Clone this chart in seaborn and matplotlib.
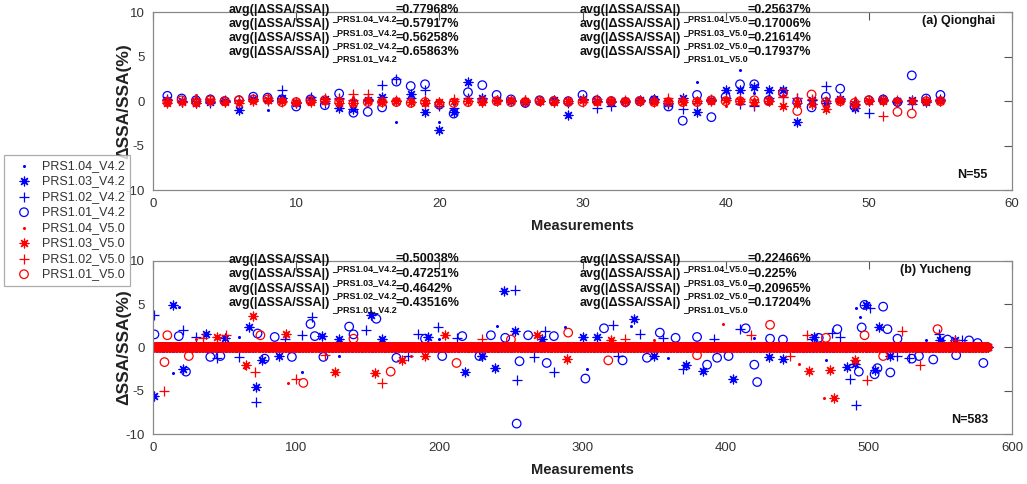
import numpy as np
import seaborn as sns
import matplotlib.pyplot as plt
from matplotlib.font_manager import FontProperties

# (a) Qionghai, N=55 -- dSSA/SSA (%) per measurement
qh_v42_104 = [0.3, 0.1, 0.3, 0.0, 0.1, -0.1, 0.2, -1.0, 0.5, 0.0,
              0.3, 0.1, 0.2, 0.2, 0.1, 0.3, -2.3, 0.4, 0.2, -2.4,
              -0.3, 0.5, 0.2, 0.1, 0.0, 0.1, 0.0, 0.1, -0.2, 0.2,
              0.1, 0.0, 0.1, 0.0, 0.3, 0.2, -0.2, 2.1, 0.2, 0.3,
              3.5, 0.9, 0.6, 0.6, 0.2, 0.1, 0.3, 0.2, 0.1, 0.0,
              0.1, 0.0, 0.2, 0.1, 0.3]
qh_v42_103 = [0.1, 0.0, -0.2, -0.1, 0.0, -1.0, 0.2, 0.1, 0.3, -0.2,
              0.1, 0.2, -0.8, -0.9, 0.1, 0.5, 0.0, 0.8, -1.2, -3.2,
              -1.2, 2.2, 0.3, 0.1, 0.0, -0.1, 0.0, 0.1, -1.6, 0.2,
              0.0, -0.1, 0.0, 0.1, 0.2, -0.2, 0.3, -1.2, 0.1, 1.3,
              1.2, 1.6, 1.2, 1.3, -2.3, 0.1, -0.2, 0.2, -0.8, 0.0,
              0.1, 0.0, 0.1, -0.1, 0.1]
qh_v42_102 = [0.2, -0.1, 0.0, -0.2, 0.1, 0.1, 0.2, 0.0, 1.2, -0.1,
              0.5, -0.2, 0.3, 0.1, 0.2, 1.8, 2.5, 0.3, 1.2, -0.5,
              -0.8, 0.4, 0.2, 0.1, 0.0, 0.1, 0.0, -0.1, -0.2, 0.1,
              -0.8, -0.6, -0.1, 0.0, 0.2, -0.3, -0.9, -0.2, 0.1, 0.3,
              -0.3, -0.6, 0.3, 0.5, 0.4, -0.3, 1.7, 0.3, -0.3, -1.3,
              0.2, -0.1, -0.3, 0.1, 0.2]
qh_v42_101 = [0.6, 0.3, 0.1, 0.2, 0.0, 0.1, 0.5, 0.4, 0.2, -0.6,
              0.2, -0.45, 0.85, -1.3, -1.2, -0.7, 2.2, 1.7, 1.9, -0.4,
              -1.4, 1.0, 1.8, 0.7, 0.2, -0.2, 0.1, 0.0, 0.0, 0.7,
              0.1, 0.0, -0.1, 0.0, 0.1, -0.6, -2.2, 0.7, -1.8, 0.5,
              1.9, 1.9, 0.1, 1.0, -0.1, -0.7, 0.5, 1.4, -0.6, 0.1,
              0.2, -0.1, 2.9, 0.3, 0.7]
qh_v50_104 = [0.2, 0.1, 0.7, 0.1, 0.0, 0.1, 0.1, 0.1, 0.2, 0.0,
              0.1, 0.2, 0.3, 0.5, 0.4, 0.1, 0.2, 0.0, 0.1, -0.2,
              0.1, 0.0, 0.2, 0.0, 0.1, 0.1, 0.0, 0.0, 0.1, 0.0,
              0.1, 0.2, 0.0, 0.1, 0.4, 0.0, 0.2, 0.3, 0.0, -0.6,
              0.4, 0.2, 0.5, 0.7, 0.2, 0.1, 0.0, 0.3, 0.3, 0.1,
              0.2, 0.0, 0.1, 0.0, 0.1]
qh_v50_103 = [-0.2, -0.1, -0.2, 0.0, -0.1, -0.2, 0.0, 0.1, 0.0, -0.1,
              -0.1, 0.0, -0.2, -0.2, 0.0, -0.1, 0.0, -0.1, -0.2, -0.1,
              0.0, 0.0, -0.1, 0.0, 0.1, 0.0, 0.0, -0.1, 0.0, 0.1,
              -0.1, 0.0, 0.0, 0.0, -0.1, 0.0, -0.1, 0.0, 0.0, 0.1,
              0.0, -0.1, 0.0, -0.6, -0.2, -0.3, -0.9, 0.0, -0.4, 0.0,
              0.0, 0.0, 0.0, 0.0, 0.0]
qh_v50_102 = [0.1, -0.1, 0.2, 0.2, -0.1, 0.1, 0.1, 0.3, -0.1, -0.2,
              0.1, 0.3, 0.2, 0.85, 0.85, 0.0, 0.1, -0.1, 0.1, -0.1,
              0.2, 0.0, -0.1, 0.1, 0.0, 0.1, 0.0, 0.1, 0.0, -0.1,
              0.2, 0.0, 0.1, 0.0, 0.1, 0.3, 0.1, 0.0, 0.2, 0.1,
              0.2, -0.4, 0.0, 0.5, 0.4, 0.2, 0.0, 0.1, 0.0, 0.1,
              -1.7, 0.1, 0.0, 0.1, 0.0]
qh_v50_101 = [-0.1, 0.1, -0.1, 0.1, 0.0, 0.1, 0.2, 0.2, -0.1, -0.1,
              0.0, 0.1, -0.1, -0.2, -0.1, -0.1, -0.1, -0.2, -0.1, -0.3,
              -0.2, -0.1, 0.0, 0.0, -0.1, -0.1, 0.0, 0.0, -0.1, -0.1,
              0.0, 0.0, -0.1, 0.0, -0.1, -0.1, -0.1, -0.1, 0.1, 0.0,
              0.0, 0.1, 0.0, 0.9, -1.1, 0.75, -0.1, 0.0, -0.2, 0.1,
              0.1, -1.2, -1.4, 0.0, 0.0]

# (b) Yucheng, N=583 -- readable points (measurement, value); all others sit in the band at 0
yc_n = 583
yc_v42_104 = [(18, 4.7), (14, -3.0), (104, -2.8), (240, 2.5), (288, 2.3), (334, 2.5),
              (303, -2.5), (491, 4.5), (494, 3.5), (60, 1.2), (130, -1.0), (200, 1.0),
              (360, -1.2), (420, 1.1), (540, 0.8), (470, -1.5)]
yc_v42_103 = [(14, 4.9), (67, 2.4), (21, -2.5), (1, -5.6), (72, -4.6), (37, 1.5), (118, 1.3),
              (76, -1.5), (245, 6.5), (152, 3.7), (253, 1.9), (218, -2.8), (239, -2.4),
              (336, 3.3), (405, -3.7), (372, -2.0), (384, -2.7), (498, 4.9), (507, 2.4),
              (485, -2.3), (490, -1.9), (504, -2.6), (160, 1.0), (300, 1.2), (440, -1.3),
              (560, 0.9), (50, 1.1), (88, -1.0), (130, 1.0), (192, 1.2), (230, -1.0),
              (272, 1.0), (310, 1.2), (350, -1.0), (430, -1.1), (462, 1.2), (515, -1.0),
              (550, 0.9)]
yc_v42_102 = [(1, 3.7), (111, 3.5), (21, 2.0), (104, 1.4), (72, -6.3), (149, 2.0), (199, 2.3),
              (185, 1.6), (274, 1.9), (253, 6.6), (254, -3.8), (280, -2.8), (321, 2.6),
              (340, 1.5), (410, 2.1), (370, -2.5), (501, 4.5), (549, 1.6), (474, 1.7),
              (491, -6.7), (487, -3.6), (45, -1.2), (230, -1.0), (460, 1.0), (520, -1.0),
              (30, 1.2), (60, -1.1), (92, 1.0), (178, -1.0), (212, 1.1), (266, -1.1),
              (325, -1.0), (356, 1.1), (392, 1.0), (480, 1.2), (528, -1.2), (565, 0.8)]
yc_v42_101 = [(1, 1.5), (110, 2.7), (137, 2.4), (140, 1.5), (73, 1.6), (113, 1.3), (23, -2.8),
              (40, -1.1), (78, -1.3), (119, -1.1), (156, 3.3), (216, 1.3), (236, 1.4),
              (262, 1.4), (280, 1.3), (254, -8.8), (256, -1.6), (275, -1.8), (202, -1.0),
              (302, -3.6), (315, 2.2), (354, 1.7), (414, 2.2), (431, 1.0), (380, 1.2),
              (422, -4.0), (387, -2.0), (328, -1.5), (420, -2.0), (394, -1.2), (497, 4.9),
              (510, 4.7), (495, 2.3), (513, 2.1), (478, 2.1), (504, -3.1), (515, -2.9),
              (493, -2.8), (506, -2.4), (530, -1.3), (545, -1.4), (580, -1.8), (561, -0.9),
              (18, 1.3), (47, -1.0), (85, 1.2), (97, -1.1), (170, -1.2), (190, 1.0),
              (228, -1.0), (246, 1.1), (345, -1.2), (365, 1.1), (402, -1.0), (440, 0.9),
              (465, 1.1), (520, 1.0), (535, -1.0), (555, 0.9), (570, 0.8), (576, 0.5)]
yc_v50_104 = [(94, -4.1), (64, -2.4), (398, 2.7), (469, -5.9), (451, -1.9), (30, 1.0),
              (180, -1.0), (350, 0.9)]
yc_v50_103 = [(70, 3.6), (93, 1.6), (65, -2.0), (127, -2.8), (204, 1.4), (268, 1.4),
              (155, -3.0), (174, -1.5), (289, -1.3), (476, -5.8), (458, -2.7), (473, -2.6),
              (45, 1.2), (190, -1.0), (320, 0.9), (490, -1.5)]
yc_v50_102 = [(51, 1.4), (8, -5.0), (71, -2.9), (100, -3.7), (160, -4.1), (418, 1.4),
              (523, 1.9), (457, 1.4), (499, -3.8), (536, -2.0),
              (35, 1.1), (120, -0.9), (230, 1.0), (330, 1.0), (445, -1.0), (560, 0.8)]
yc_v50_101 = [(10, 1.4), (75, 1.4), (8, -1.7), (105, -4.1), (166, -2.8), (212, -1.8),
              (290, 1.7), (318, -1.5), (431, 2.6), (548, 2.1), (497, 1.4),
              (25, -1.0), (140, 1.0), (250, 0.9), (380, -0.9), (470, 1.1), (510, -1.0)]

names = ["PRS1.04_V4.2", "PRS1.03_V4.2", "PRS1.02_V4.2", "PRS1.01_V4.2",
         "PRS1.04_V5.0", "PRS1.03_V5.0", "PRS1.02_V5.0", "PRS1.01_V5.0"]

qh_avg_v42 = ["0.77968", "0.57917", "0.56258", "0.65863"]
qh_avg_v50 = ["0.25637", "0.17006", "0.21614", "0.17937"]
yc_avg_v42 = ["0.50038", "0.47251", "0.4642", "0.43516"]
yc_avg_v50 = ["0.22466", "0.225", "0.20965", "0.17204"]

colors = ["#0000ff"] * 4 + ["#ff0000"] * 4
markers = [".", (8, 2, 0), "+", "o"] * 2
sizes = [14, 40, 45, 38] * 2

sns.set_theme(style="white")
plt.rcParams["font.family"] = ["Liberation Sans", "DejaVu Sans"]
plt.rcParams["axes.unicode_minus"] = False

W, H = 1027, 484


def expand(pts, n):
    y = np.zeros(n)
    for i, v in pts:
        y[i - 1] = v
    return y


def draw(ax, x, y, k):
    m, c, s = markers[k], colors[k], sizes[k]
    if m == "o":
        sns.scatterplot(x=x, y=y, ax=ax, marker="o", s=s, facecolor="none",
                        edgecolor=c, linewidth=0.9, label=names[k], legend=False)
    elif m == ".":
        sns.scatterplot(x=x, y=y, ax=ax, marker="o", s=s * 0.35, color=c,
                        edgecolor=c, linewidth=0, label=names[k], legend=False)
    else:
        sns.scatterplot(x=x, y=y, ax=ax, marker=m, s=s, color=c,
                        linewidth=0.9, label=names[k], legend=False)


def style_axes(ax, xmax, xstep):
    ax.set_xlim(0, xmax)
    ax.set_ylim(-10, 10)
    ax.set_xticks(np.arange(0, xmax + 1, xstep))
    ax.set_yticks([-10, -5, 0, 5, 10])
    ax.tick_params(direction="in", length=6, width=0.8, top=True, right=True,
                   colors="#555555", labelcolor="#333333", labelsize=9.5, pad=6)
    for sp in ax.spines.values():
        sp.set_color("#888888")
        sp.set_linewidth(0.9)
    ax.set_xlabel("Measurements", fontsize=10.5, fontweight="bold", color="#222222", labelpad=6)
    ax.set_ylabel("ΔSSA/SSA(%)", fontsize=12.5, fontweight="bold", color="#222222")
    ax.yaxis.set_label_coords(-0.0255, 0.5)


fig = plt.figure(figsize=(10.27, 4.84), dpi=100)
ax1 = fig.add_axes([0.149, 0.6074, 0.8364, 0.3672])
ax2 = fig.add_axes([0.149, 0.1033, 0.8364, 0.358])
renderer = fig.canvas.get_renderer()


def block(px, py, lines, size, pitch):
    # one multi-line text per column; py is the first line's baseline in pixels
    fp = FontProperties(family=["Liberation Sans"], weight="bold", size=size)
    _, lh, ld = renderer.get_text_width_height_descent("lp", fp, ismath=False)
    asc = lh - ld
    for s in lines:
        _, h, d = renderer.get_text_width_height_descent(s, fp, ismath=False)
        asc = max(asc, max(h, lh) - max(d, ld))
    last = py + pitch * (len(lines) - 1)
    fig.text(px / W, 1 - last / H, "\n".join(lines), fontproperties=fp, color="#111111",
             ha="left", va="baseline", linespacing=pitch / asc)


def avg_block(x0, y0, pitch, ver, vals):
    tags = ["_PRS1.0%d_%s" % (4 - j, ver) for j in range(4)]
    block(x0, y0, ["avg(|ΔSSA/SSA|)"] * 4, 9, pitch)
    block(x0 + 103, y0 + 5.5, tags, 6.5, pitch)
    block(x0 + 167, y0, ["=%s%%" % v for v in vals], 9, pitch)


qh_series = [qh_v42_104, qh_v42_103, qh_v42_102, qh_v42_101,
             qh_v50_104, qh_v50_103, qh_v50_102, qh_v50_101]
yc_series = [yc_v42_104, yc_v42_103, yc_v42_102, yc_v42_101,
             yc_v50_104, yc_v50_103, yc_v50_102, yc_v50_101]

qx = np.arange(1, len(qh_v42_101) + 1)
yx = np.arange(1, yc_n + 1)
for k in range(8):
    draw(ax1, qx, np.array(qh_series[k]), k)
    draw(ax2, yx, expand(yc_series[k], yc_n), k)

style_axes(ax1, 60, 10)
style_axes(ax2, 600, 100)

avg_block(229, 22, 11.1, "V4.2", qh_avg_v42)
avg_block(580, 22, 11.1, "V5.0", qh_avg_v50)
avg_block(229, 271.5, 11.6, "V4.2", yc_avg_v42)
avg_block(580, 271.5, 11.6, "V5.0", yc_avg_v50)

ax1.text(0.981, 0.934, "(a) Qionghai", transform=ax1.transAxes, ha="right", va="baseline",
         fontsize=9, fontweight="bold", color="#111111")
ax2.text(0.953, 0.93, "(b) Yucheng", transform=ax2.transAxes, ha="right", va="baseline",
         fontsize=9, fontweight="bold", color="#111111")
ax1.text(0.972, 0.085, "N=55", transform=ax1.transAxes, ha="right", va="center",
         fontsize=9, fontweight="bold", color="#111111")
ax2.text(0.972, 0.082, "N=583", transform=ax2.transAxes, ha="right", va="center",
         fontsize=9, fontweight="bold", color="#111111")

handles, labels = ax1.get_legend_handles_labels()
leg = fig.legend(handles, labels, loc="upper left", bbox_to_anchor=(4 / W, 1 - 155 / H),
                 borderaxespad=0, fontsize=9, frameon=True, fancybox=False,
                 handlelength=2.4, handletextpad=0.25, labelspacing=0.28, borderpad=0.4,
                 markerscale=1.0)
leg.get_frame().set_edgecolor("#999999")
leg.get_frame().set_linewidth(0.9)
for t in leg.get_texts():
    t.set_color("#333333")

fig.savefig("out.png", dpi=100)
